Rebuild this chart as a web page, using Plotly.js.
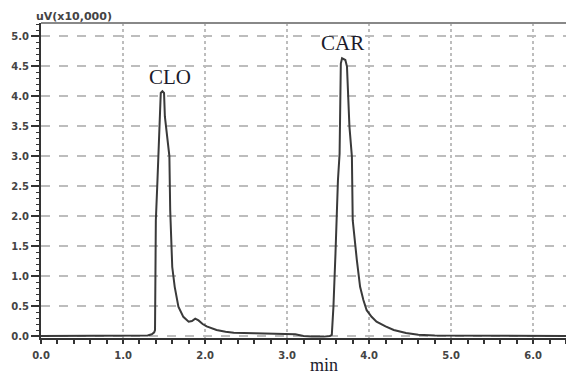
<!DOCTYPE html>
<html>
<head>
<meta charset="utf-8">
<script src="https://cdn.plot.ly/plotly-3.0.1.min.js"></script>
<style>html,body{margin:0;padding:0;background:#fff;}#chart{width:566px;height:377px;}</style>
</head>
<body>
<div id="chart"></div>
<script>
// Retention time (min)
const time = [0, 0.5, 1.0, 1.2, 1.3, 1.35, 1.38, 1.39, 1.40, 1.42, 1.44, 1.46, 1.48, 1.50, 1.51, 1.54, 1.565, 1.575, 1.59, 1.60, 1.63, 1.675, 1.735, 1.80, 1.84, 1.88, 1.92, 1.97, 2.02, 2.08, 2.14, 2.25, 2.35, 2.6, 2.9, 3.0, 3.1, 3.2, 3.3, 3.45, 3.52, 3.545, 3.565, 3.59, 3.605, 3.62, 3.64, 3.655, 3.67, 3.69, 3.71, 3.73, 3.76, 3.79, 3.80, 3.85, 3.89, 3.93, 3.97, 4.03, 4.09, 4.2, 4.3, 4.45, 4.6, 4.8, 5.0, 5.3, 5.6, 6.0, 6.4];
// Detector signal (uV x10,000)
const signal = [0, 0, 0, 0.005, 0.01, 0.03, 0.06, 0.1, 1.93, 2.6, 3.32, 4.05, 4.08, 4.05, 3.66, 3.3, 3.0, 2.1, 1.6, 1.15, 0.82, 0.49, 0.32, 0.24, 0.25, 0.29, 0.26, 0.2, 0.16, 0.13, 0.10, 0.07, 0.055, 0.045, 0.04, 0.035, 0.03, 0.0, -0.01, -0.01, 0.0, 0.02, 0.49, 1.38, 2.16, 2.6, 3.04, 4.54, 4.63, 4.62, 4.6, 4.49, 3.49, 2.99, 1.93, 1.27, 0.82, 0.6, 0.43, 0.32, 0.24, 0.16, 0.10, 0.05, 0.02, 0.01, 0.01, 0.0, 0.0, 0.0, 0.0];
const peakNames = ["CLO", "CAR"];
const peakTimes = [1.573, 3.68];
const peakLabelY = [4.32, 4.88];
const xTicks = [0, 1, 2, 3, 4, 5, 6];
const xTickText = ["0.0", "1.0", "2.0", "3.0", "4.0", "5.0", "6.0"];
const yTicks = [0, 0.5, 1, 1.5, 2, 2.5, 3, 3.5, 4, 4.5, 5];
const yTickText = ["0.0", "0.5", "1.0", "1.5", "2.0", "2.5", "3.0", "3.5", "4.0", "4.5", "5.0"];

const tickFont = {family: "DejaVu Sans", size: 10, color: "#444", weight: "bold"};
const serif = "Liberation Serif";

const L = 41, W = 566 - 41, T = 23, H = 377 - 23 - 39;

const annotations = peakNames.map((n, i) => ({
  x: peakTimes[i], y: peakLabelY[i], xref: "x", yref: "y", text: n, showarrow: false,
  font: {family: serif, size: 21, color: "#1b1b2b"}
}));
annotations.push({x: (73.5 - L) / W, y: 1 + (T - 16) / H, xref: "paper", yref: "paper", text: "uV(x10,000)",
  showarrow: false, font: {family: "DejaVu Sans", size: 11, color: "#444", weight: "bold"}, xanchor: "center", yanchor: "middle"});
annotations.push({x: (324 - L) / W, y: -(365 - (T + H)) / H, xref: "paper", yref: "paper", text: "min", showarrow: false,
  font: {family: serif, size: 18, color: "#1b1b2b"}, xanchor: "center", yanchor: "middle"});

const layout = {
  width: 566, height: 377,
  margin: {l: L, r: 0, t: T, b: 39},
  paper_bgcolor: "#fff", plot_bgcolor: "#fff",
  showlegend: false,
  xaxis: {
    range: [0, 6.4], tickmode: "array", tickvals: xTicks, ticktext: xTickText,
    showline: true, linecolor: "#333", linewidth: 2,
    ticks: "outside", ticklen: 4, tickwidth: 2, tickcolor: "#333",
    showgrid: true, gridcolor: "#bdbdbd", griddash: "dot", gridwidth: 1.5,
    zeroline: false, tickfont: tickFont, ticklabelstandoff: 3,
    minor: {dtick: 0.2, tick0: 0, ticks: "outside", ticklen: 4, tickwidth: 2, tickcolor: "#333", showgrid: false},
    layer: "below traces"
  },
  yaxis: {
    range: [-0.033, 5.217], tickmode: "array", tickvals: yTicks, ticktext: yTickText,
    showline: true, linecolor: "#333", linewidth: 2,
    ticks: "outside", ticklen: 8, tickwidth: 1.5, tickcolor: "#333",
    showgrid: true, gridcolor: "#bdbdbd", griddash: "dash", gridwidth: 1.2,
    zeroline: false, tickfont: tickFont,
    minor: {dtick: 0.1, tick0: 0, ticks: "outside", ticklen: 3, tickwidth: 1, tickcolor: "#333", showgrid: false}
  },
  shapes: [
    {type: "line", xref: "paper", yref: "paper", x0: 0, x1: 1, y0: 1, y1: 1, line: {color: "#888", width: 2}}
  ],
  annotations: annotations
};

Plotly.newPlot("chart", [{
  x: time, y: signal, type: "scatter", mode: "lines",
  line: {color: "#3a3a3a", width: 2}, hoverinfo: "skip"
}], layout, {staticPlot: true, displayModeBar: false});
</script>
</body>
</html>
